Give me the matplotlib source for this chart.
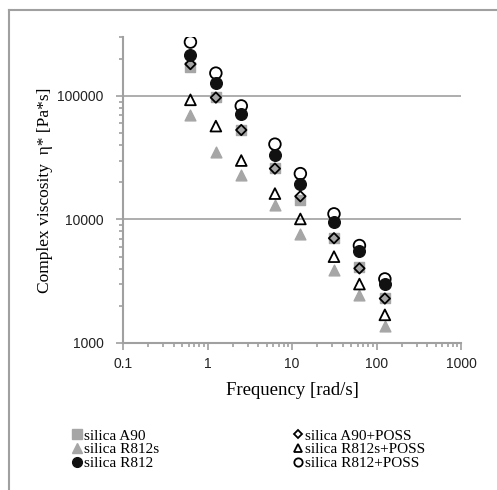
import numpy as np
import matplotlib
matplotlib.use("Agg")
import matplotlib.pyplot as plt
from matplotlib.ticker import LogLocator, NullFormatter, FixedLocator, FixedFormatter
from matplotlib.lines import Line2D

# frequency [rad/s]
freq = [0.628, 1.256, 2.51, 6.28, 12.56, 31.4, 62.8, 125.6]

a90 = [173000, 98000, 53000, 26000, 14300, 7050, 4100, 2300]
r812s = [70000, 35000, 22800, 13000, 7650, 3900, 2450, 1375]
r812 = [215000, 127000, 71000, 33100, 19500, 9500, 5520, 3000]
a90_poss = [181000, 97000, 53000, 25800, 15400, 7050, 4020, 2290]
r812s_poss = [93000, 57000, 30000, 16200, 10100, 5000, 3000, 1690]
r812_poss = [273000, 153000, 83000, 40700, 23500, 11100, 6150, 3300]

labels = ["silica A90", "silica R812s", "silica R812",
          "silica A90+POSS", "silica R812s+POSS", "silica R812+POSS"]

gray = "#a6a6a6"
axcol = "#a0a0a0"

fig = plt.figure(figsize=(4.97, 4.90), dpi=100)
ax = fig.add_axes([123 / 497, 1 - 343 / 490, (461 - 123) / 497, (343 - 37) / 490])

# figure frame (top / left)
fig.add_artist(Line2D([9 / 497, 9 / 497], [0, 1 - 10 / 490], color=axcol, lw=1.5,
                      transform=fig.transFigure))
fig.add_artist(Line2D([9 / 497, 1], [1 - 10 / 490, 1 - 10 / 490], color=axcol, lw=1.5,
                      transform=fig.transFigure))

ax.set_xscale("log")
ax.set_yscale("log")
ax.set_xlim(0.1, 1000)
ax.set_ylim(1000, 300000)

for y in [10000, 100000]:
    ax.axhline(y, color=axcol, lw=1.2, zorder=0)

ax.scatter(freq, a90, marker="s", s=60, color=gray, zorder=2)
ax.scatter(freq, r812s, marker="^", s=60, color=gray, zorder=2)
ax.scatter(freq, r812_poss, marker="o", s=70, facecolor="none", edgecolor="black", lw=1.3, zorder=3)
ax.scatter(freq, r812, marker="o", s=70, color="#111111", zorder=4)
ax.scatter(freq, a90_poss, marker="D", s=28, facecolor="none", edgecolor="black", lw=1.3, zorder=3)
ax.scatter(freq, r812s_poss, marker="^", s=60, facecolor="none", edgecolor="black", lw=1.3, zorder=3)

for s in ["top", "right"]:
    ax.spines[s].set_visible(False)
for s in ["left", "bottom"]:
    ax.spines[s].set_color(axcol)
    ax.spines[s].set_linewidth(1.5)

ax.xaxis.set_major_locator(FixedLocator([0.1, 1, 10, 100, 1000]))
ax.xaxis.set_major_formatter(FixedFormatter(["0.1", "1", "10", "100", "1000"]))
ax.xaxis.set_minor_locator(LogLocator(base=10, subs=np.arange(2, 10)))
ax.xaxis.set_minor_formatter(NullFormatter())
ax.yaxis.set_major_locator(FixedLocator([1000, 10000, 100000]))
ax.yaxis.set_major_formatter(FixedFormatter(["1000", "10000", "100000"]))
ax.yaxis.set_minor_locator(LogLocator(base=10, subs=np.arange(2, 10)))
ax.yaxis.set_minor_formatter(NullFormatter())

ax.tick_params(which="both", color=axcol, width=1.2)
ax.tick_params(axis="x", which="major", length=5, pad=5)
ax.tick_params(axis="x", which="minor", length=3)
ax.tick_params(axis="y", which="major", length=5, pad=9)
ax.tick_params(axis="y", which="minor", length=3)
for t in ax.get_xticklabels() + ax.get_yticklabels():
    t.set_fontfamily("Liberation Sans")
    t.set_fontsize(10)
    t.set_color("#222222")

ax.set_xlabel("Frequency [rad/s]", family="Liberation Serif", fontsize=13.5, labelpad=8)
ax.set_ylabel("Complex viscosity  η* [Pa*s]", family="Liberation Serif", fontsize=12.5)
ax.yaxis.set_label_coords((53 - 123) / 338, 0.5)

handles = [
    Line2D([], [], ls="none", marker="s", ms=6.5, color=gray),
    Line2D([], [], ls="none", marker="^", ms=6.5, color=gray),
    Line2D([], [], ls="none", marker="o", ms=7, color="#111111"),
    Line2D([], [], ls="none", marker="D", ms=4.5, mfc="none", mec="black", mew=1.3),
    Line2D([], [], ls="none", marker="^", ms=6, mfc="none", mec="black", mew=1.3),
    Line2D([], [], ls="none", marker="o", ms=6, mfc="none", mec="black", mew=1.3),
]
fig.legend(handles, labels, ncol=2, loc="upper left", bbox_to_anchor=(73 / 497, 1 - 429 / 490),
           frameon=False, prop={"family": "Liberation Serif", "size": 11},
           handlelength=0.5, handletextpad=0.25, labelspacing=0.0, columnspacing=8.8,
           borderpad=0, borderaxespad=0)

fig.savefig("out.png", dpi=100)
